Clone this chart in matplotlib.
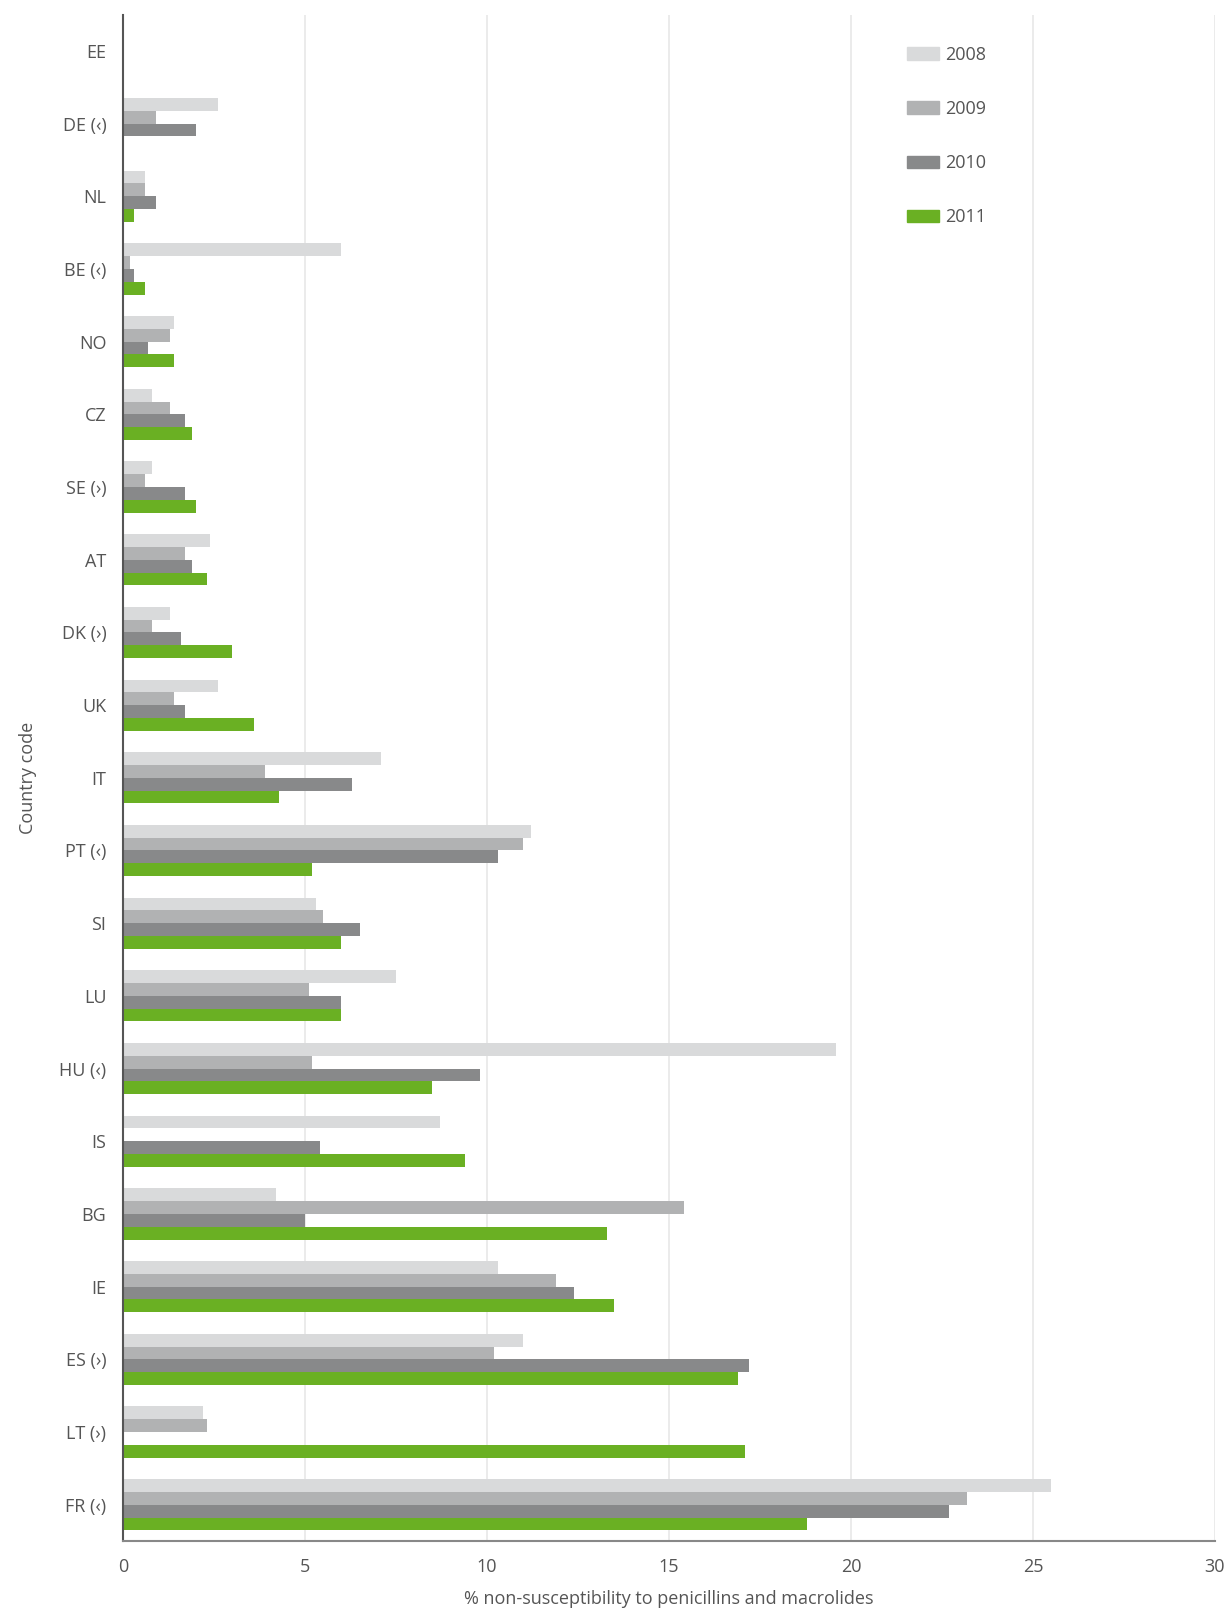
import numpy as np
import matplotlib
matplotlib.use("Agg")
import matplotlib.pyplot as plt
from matplotlib.patches import Patch

# dados
paises = ["EE", "DE (‹)", "NL", "BE (‹)", "NO", "CZ", "SE (›)", "AT", "DK (›)", "UK",
          "IT", "PT (‹)", "SI", "LU", "HU (‹)", "IS", "BG", "IE", "ES (›)", "LT (›)", "FR (‹)"]
anos = ["2008", "2009", "2010", "2011"]
v2008 = [0, 2.6, 0.6, 6.0, 1.4, 0.8, 0.8, 2.4, 1.3, 2.6,
         7.1, 11.2, 5.3, 7.5, 19.6, 8.7, 4.2, 10.3, 11.0, 2.2, 25.5]
v2009 = [0, 0.9, 0.6, 0.2, 1.3, 1.3, 0.6, 1.7, 0.8, 1.4,
         3.9, 11.0, 5.5, 5.1, 5.2, 0, 15.4, 11.9, 10.2, 2.3, 23.2]
v2010 = [0, 2.0, 0.9, 0.3, 0.7, 1.7, 1.7, 1.9, 1.6, 1.7,
         6.3, 10.3, 6.5, 6.0, 9.8, 5.4, 5.0, 12.4, 17.2, 0, 22.7]
v2011 = [0, 0, 0.3, 0.6, 1.4, 1.9, 2.0, 2.3, 3.0, 3.6,
         4.3, 5.2, 6.0, 6.0, 8.5, 9.4, 13.3, 13.5, 16.9, 17.1, 18.8]
cores = ["#d9dadb", "#b1b2b3", "#88898a", "#6ab023"]

plt.rcParams['font.family'] = ['Open Sans', 'DejaVu Sans']
cinza = "#555555"

fig = plt.figure(figsize=(12.26, 16.12), dpi=100)
ax = fig.add_axes([0.1003, 0.044, 0.8907, 0.947])

y = np.arange(len(paises))
h = 0.176
for i, vals in enumerate([v2008, v2009, v2010, v2011]):
    ax.barh(y + (i - 1.5) * h, vals, height=h, color=cores[i], zorder=2)

ax.set_ylim(len(paises) - 0.5, -0.5)
ax.set_xlim(0, 30)
ax.set_xticks(range(0, 31, 5))
ax.set_yticks(y)
ax.set_yticklabels(paises)
ax.tick_params(length=0, labelsize=13, colors=cinza)
ax.tick_params(axis="y", pad=12)
ax.tick_params(axis="x", pad=12)
ax.grid(axis="x", color="#e8e8e8", linewidth=1.2, zorder=0)
for s in ["top", "right"]:
    ax.spines[s].set_visible(False)
ax.spines["left"].set_color("#555555")
ax.spines["left"].set_linewidth(1.5)
ax.spines["bottom"].set_color("#888888")
ax.spines["bottom"].set_linewidth(1.5)

ax.set_xlabel("% non-susceptibility to penicillins and macrolides", fontsize=13, color=cinza, labelpad=10)
ax.set_ylabel("Country code", fontsize=13, color=cinza, labelpad=16)

handles = [Patch(color=c) for c in cores]
leg = ax.legend(handles, anos, loc="upper right", bbox_to_anchor=(0.805, 0.99), frameon=False,
                fontsize=13, labelspacing=2.0, handlelength=1.8, handleheight=0.7, handletextpad=0.3,
                labelcolor=cinza)

fig.savefig("out.png", dpi=100)
